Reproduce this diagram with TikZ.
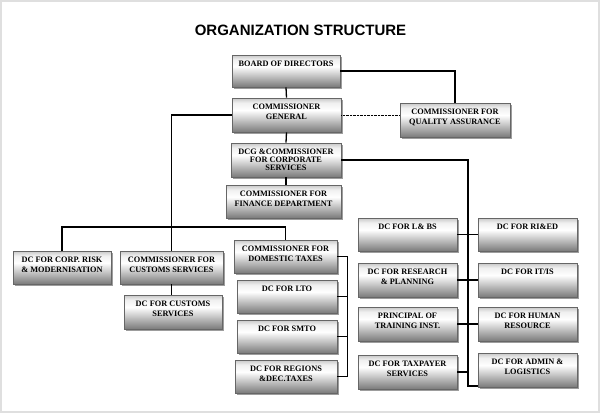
\documentclass[tikz,border=0pt]{standalone}
\usepackage{fontspec}
\setmainfont{Liberation Serif}
\newfontfamily\titlefont{Liberation Sans}
\usepackage{xcolor}
\usepackage{tikz}
\usetikzlibrary{shadows}
\usetikzlibrary{calc}

\pgfdeclareverticalshading{boxshade}{100bp}{color(0bp)=(black!52); color(25bp)=(black!52); color(57bp)=(white); color(68bp)=(black!6); color(75bp)=(black!22); color(100bp)=(black!22)}

\newcommand{\boxtext}[3]{\parbox[c][#2][t]{#1}{\centering\vspace*{6pt}#3}}

\begin{document}
\begin{tikzpicture}[x=1pt,y=-1pt,
   orgbox/.style={draw=black!60,line width=0.7pt,shading=boxshade,inner sep=0pt,
      font=\fontsize{8.3}{10}\selectfont\bfseries,
      drop shadow={shadow xshift=2pt,shadow yshift=-2pt,fill=black!55,opacity=0.7}},
   link/.style={line width=1.3pt,color=black}]
   \useasboundingbox (0,0) rectangle (600,413);
   \draw[gray!25,line width=2pt] (1,1) rectangle (599,412);
   \node[anchor=base] (title) at (300.5,35) {\titlefont\fontsize{15}{18}\selectfont\bfseries ORGANIZATION STRUCTURE};

   % top of the chart
   \node[orgbox] (bod) at (286,71) {\boxtext{108pt}{32pt}{BOARD OF DIRECTORS}};
   \node[orgbox] (cg) at (286.5,115) {\boxtext{109pt}{34pt}{COMMISSIONER\\GENERAL}};
   \node[orgbox] (qa) at (455,120) {\boxtext{110pt}{34pt}{COMMISSIONER FOR\\QUALITY ASSURANCE}};
   \node[orgbox] (dcg) at (286,160) {\boxtext{110pt}{34pt}{DCG \&COMMISSIONER\\[-2pt]FOR CORPORATE\\[-2pt]SERVICES}};
   \node[orgbox] (fin) at (283.5,201.5) {\boxtext{115pt}{33pt}{COMMISSIONER FOR\\FINANCE DEPARTMENT}};

   % left branch
   \node[orgbox] (risk) at (62,267.5) {\boxtext{98pt}{33pt}{DC FOR CORP. RISK\\\& MODERNISATION}};
   \node[orgbox] (cust) at (171.5,267.5) {\boxtext{103pt}{33pt}{COMMISSIONER FOR\\CUSTOMS SERVICES}};
   \node[orgbox] (dccust) at (173,312) {\boxtext{98pt}{34pt}{DC FOR CUSTOMS\\SERVICES}};
   \node[orgbox] (dom) at (285.5,256.5) {\boxtext{103pt}{33pt}{COMMISSIONER FOR\\DOMESTIC TAXES}};
   \node[orgbox] (lto) at (287,296.5) {\boxtext{100pt}{33pt}{DC FOR LTO}};
   \node[orgbox] (smto) at (287,336.5) {\boxtext{100pt}{33pt}{DC FOR SMTO}};
   \node[orgbox] (reg) at (286,376.5) {\boxtext{102pt}{33pt}{DC FOR REGIONS\\\&DEC.TAXES}};

   % right branch
   \node[orgbox] (lbs) at (407.5,234.5) {\boxtext{99pt}{33pt}{DC FOR L\& BS}};
   \node[orgbox] (res) at (407.5,280) {\boxtext{99pt}{34pt}{DC FOR RESEARCH\\\& PLANNING}};
   \node[orgbox] (prin) at (407.5,324) {\boxtext{99pt}{34pt}{PRINCIPAL OF\\TRAINING INST.}};
   \node[orgbox] (tax) at (407.5,372) {\boxtext{99pt}{34pt}{DC FOR TAXPAYER\\SERVICES}};
   \node[orgbox] (ried) at (527.5,234.5) {\boxtext{99pt}{33pt}{DC FOR RI\&ED}};
   \node[orgbox] (it) at (527.5,280) {\boxtext{99pt}{34pt}{DC FOR IT/IS}};
   \node[orgbox] (hr) at (527.5,324) {\boxtext{99pt}{34pt}{DC FOR HUMAN\\RESOURCE}};
   \node[orgbox] (adm) at (527.5,370) {\boxtext{99pt}{34pt}{DC FOR ADMIN \&\\LOGISTICS}};

   % connectors
   \draw[link] (bod.east) -| (qa.north);
   \draw[link] (bod.south) -- (cg.north);
   \draw[densely dotted,thin] (cg.east) -- (cg.east -| qa.west);
   \draw[link] (cg.south) -- (dcg.north);
   \draw[link] (dcg.south) -- (dcg.south |- fin.north);

   \coordinate (bus) at (171.5,227);
   \draw[link] (cg.west) -| (cust.north);
   \draw[link] (risk.north) |- (bus) -| (dom.north);
   \draw[link] (cust.south) -- (cust.south |- dccust.north);

   \draw[link] (dom.east) -- ++(10,0) coordinate (dt) |- (reg.east);
   \draw[link] (lto.east) -- (lto.east -| dt);
   \draw[link] (smto.east) -- (smto.east -| dt);

   \coordinate (rt) at (468,386);
   \draw[link] (dcg.east) -| (rt) -- (rt -| adm.west);
   \draw[link] (lbs.east) -- (lbs.east -| rt);
   \draw[link] (res.east) -- (res.east -| rt);
   \draw[link] (prin.east) -- (prin.east -| rt);
   \draw[link] (tax.east) -- (tax.east -| rt);
   \draw[link] (ried.west) -- (ried.west -| rt);
   \draw[link] (it.west) -- (it.west -| rt);
   \draw[link] (hr.west) -- (hr.west -| rt);
\end{tikzpicture}
\end{document}
